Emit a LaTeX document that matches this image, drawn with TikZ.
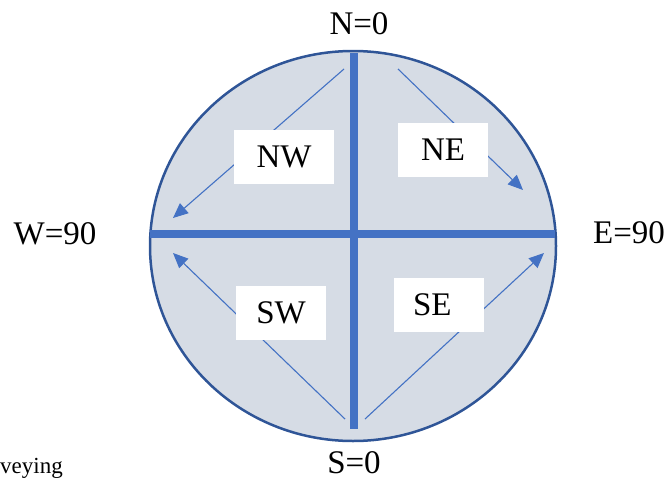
\documentclass[tikz,border=0pt]{standalone}
\usepackage{fontspec}
\setmainfont{Liberation Serif}
\usetikzlibrary{arrows.meta}

\definecolor{discfill}{HTML}{D6DCE5}
\definecolor{discline}{HTML}{2F5597}
\definecolor{axisblue}{HTML}{4472C4}

\begin{document}
\begin{tikzpicture}[x=1pt, y=-1pt,
	bigtext/.style={font=\fontsize{33}{38}\selectfont, inner sep=0pt},
	quadbox/.style={fill=white, font=\fontsize{33}{38}\selectfont, minimum width=90pt, minimum height=54pt, inner sep=0pt},
	bearing/.style={axisblue, line width=1.1pt, -{Triangle[length=15pt, width=13pt]}},
	axis/.style={axisblue, line width=8pt}]
	\useasboundingbox (0, 0) rectangle (666, 479);
	% the disc
	\draw[discline, fill=discfill, line width=2.5pt] (353, 246) ellipse [x radius=203, y radius=195];
	% meridian and parallel
	\coordinate (top) at (353.5, 53);
	\coordinate (bottom) at (353.5, 429);
	\coordinate (west) at (150, 234);
	\coordinate (east) at (555, 234);
	\draw[axis] (west) -- (east);
	\draw[axis] (top) -- (bottom);
	% bearing arrows
	\coordinate (nwstart) at (344, 69);
	\coordinate (nwend) at (173, 218);
	\coordinate (nestart) at (398, 69);
	\coordinate (neend) at (523, 190);
	\coordinate (swstart) at (345, 419);
	\coordinate (swend) at (173, 253);
	\coordinate (sestart) at (365, 419);
	\coordinate (seend) at (544, 253);
	\draw[bearing] (nwstart) -- (nwend);
	\draw[bearing] (nestart) -- (neend);
	\draw[bearing] (swstart) -- (swend);
	\draw[bearing] (sestart) -- (seend);
	% quadrant labels
	\node[quadbox, minimum width=100pt] (nw) at (284, 156.5) {NW};
	\node[quadbox] (ne) at (443, 150) {NE};
	\node[quadbox] (sw) at (281, 313) {SW};
	\node[quadbox, text width=52pt, align=left] (se) at (439, 305) {SE};
	% cardinal points
	\node[bigtext, anchor=base] (north) at (359, 34) {N=0};
	\node[bigtext, anchor=base] (south) at (354, 473) {S=0};
	\node[bigtext, anchor=base] (wlabel) at (55, 244) {W=90};
	\node[bigtext, anchor=base] (elabel) at (629, 243) {E=90};
	\node[font=\fontsize{23}{26}\selectfont, inner sep=0pt, anchor=base east] (caption) at (63, 473) {veying};
\end{tikzpicture}
\end{document}
